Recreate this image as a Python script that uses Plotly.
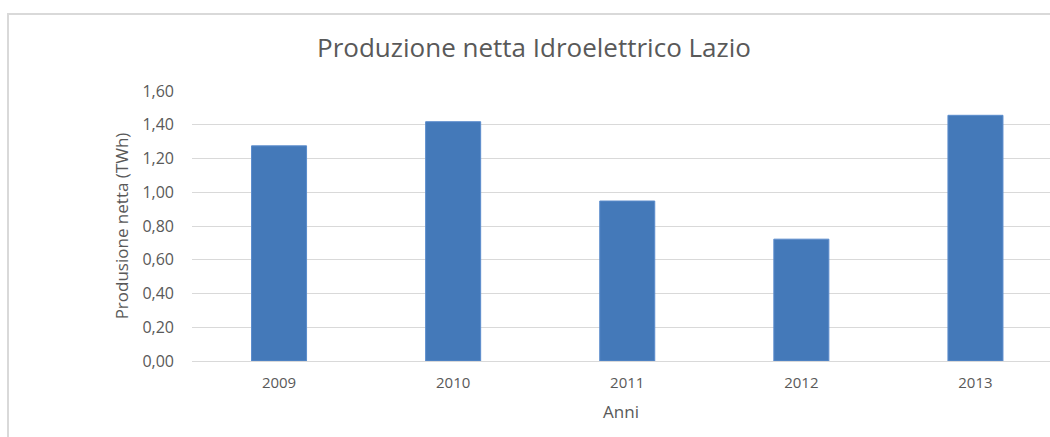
import plotly.graph_objects as go

# Net hydroelectric production in Lazio, by year (TWh)
anni = ["2009", "2010", "2011", "2012", "2013"]
produzione = [1.275, 1.418, 0.948, 0.722, 1.456]
y_ticks = [0.0, 0.2, 0.4, 0.6, 0.8, 1.0, 1.2, 1.4, 1.6]

W, H = 1050, 437
left, right, top, bottom = 192, 0, 91, 76
plot_w = W - left - right
plot_h = H - top - bottom

grey_text = "#595959"
font_family = "'Open Sans', sans-serif"

fig = go.Figure(
    go.Bar(
        x=list(range(len(anni))),
        y=produzione,
        width=0.316,
        marker=dict(color="#4479b9", line=dict(color="#5b8ccc", width=1)),
        hoverinfo="skip",
    )
)

# outer chart frame (runs past the right and bottom edges)
fx0 = (8 - left) / plot_w
fy1 = (H - bottom - 14) / plot_h
fig.add_shape(
    type="rect", xref="paper", yref="paper",
    x0=fx0, x1=1.2, y0=-0.6, y1=fy1,
    line=dict(color="#d9d9d9", width=2), fillcolor="rgba(0,0,0,0)", layer="below",
)

fig.update_layout(
    width=W, height=H,
    margin=dict(l=left, r=right, t=top, b=bottom, pad=0),
    paper_bgcolor="white", plot_bgcolor="white",
    separators=",.",
    showlegend=False,
    title=dict(
        text="Produzione netta Idroelettrico Lazio",
        x=(534 - left) / plot_w, xref="paper", xanchor="center",
        y=1 - 48 / H, yref="container", yanchor="middle",
        font=dict(family=font_family, size=26, color=grey_text),
    ),
    xaxis=dict(
        range=[-0.5, -0.5 + plot_w / 174.1],
        tickmode="array", tickvals=list(range(len(anni))), ticktext=anni,
        showgrid=False, zeroline=False, showline=False, ticks="",
        ticklabelstandoff=11,
        tickfont=dict(family=font_family, size=15, color=grey_text),
        title=dict(text="Anni", font=dict(family=font_family, size=17, color=grey_text), standoff=15),
        fixedrange=True,
    ),
    yaxis=dict(
        range=[0, 1.6],
        tickmode="array", tickvals=y_ticks, tickformat=".2f",
        showgrid=True, gridcolor="#d9d9d9", gridwidth=1,
        zeroline=True, zerolinecolor="#d9d9d9", zerolinewidth=1,
        showline=False, ticks="", ticklabelstandoff=17,
        tickfont=dict(family=font_family, size=16, color=grey_text),
        title=dict(text="Produsione netta (TWh)", font=dict(family=font_family, size=17, color=grey_text), standoff=9),
        fixedrange=True,
    ),
)

fig.write_html("out.html", config={"displayModeBar": False})
